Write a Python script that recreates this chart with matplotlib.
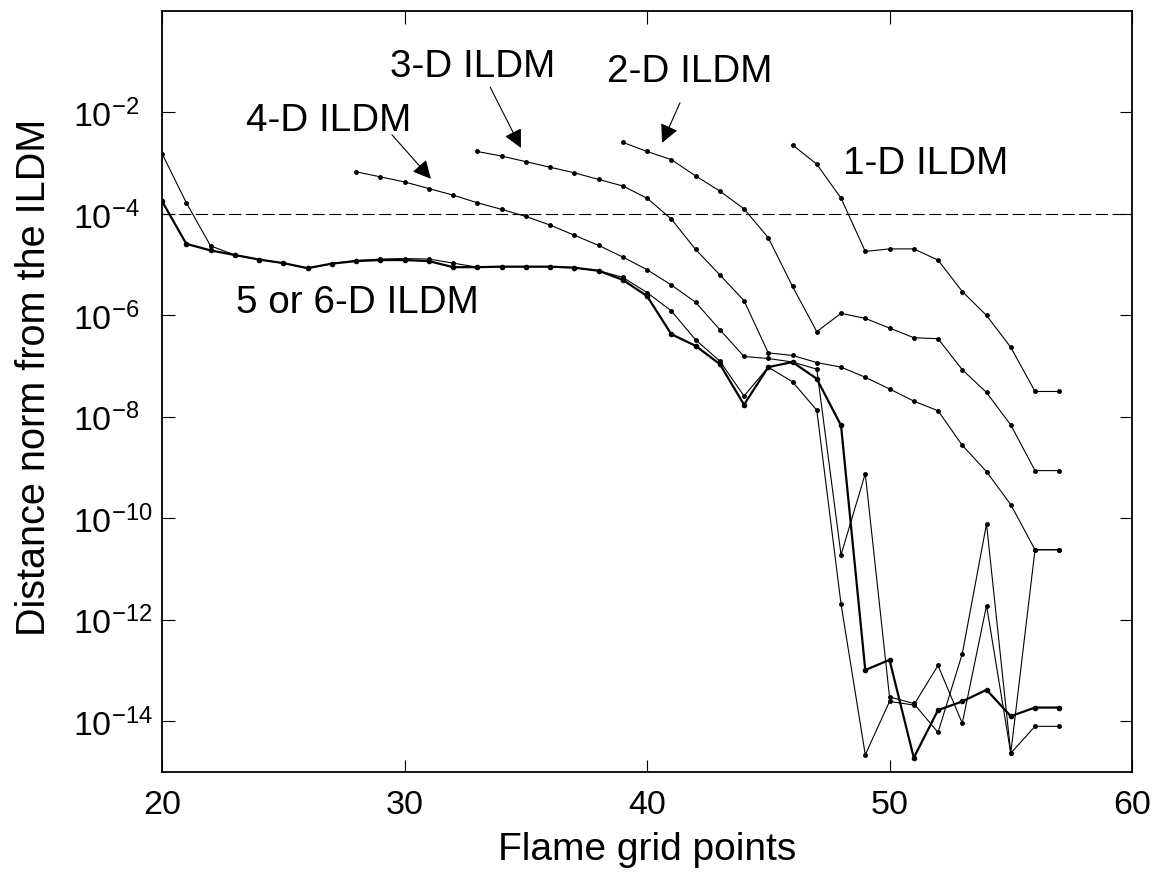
import numpy as np
import matplotlib
matplotlib.use("Agg")
import matplotlib.pyplot as plt

plt.rcParams['font.family'] = ['Liberation Sans', 'DejaVu Sans']
plt.rcParams['mathtext.default'] = 'regular'

# log10 of the distance norm
x_1d = list(range(46, 58))
log_1d = [-2.64, -3.02, -3.69, -4.74, -4.69, -4.69, -4.91, -5.53, -6.00, -6.63, -7.50, -7.50]

x_2d = list(range(39, 58))
log_2d = [-2.59, -2.77, -2.93, -3.25, -3.55, -3.90, -4.47, -5.43, -6.32, -5.96,
          -6.06, -6.25, -6.44, -6.46, -7.07, -7.52, -8.16, -9.06, -9.06]

x_3d = list(range(33, 58))
log_3d = [-2.77, -2.86, -2.97, -3.08, -3.19, -3.32, -3.45, -3.69, -4.10, -4.70,
          -5.20, -5.71, -6.74, -6.79, -6.93, -7.02, -7.22, -7.45, -7.69, -7.88,
          -8.56, -9.08, -9.73, -10.62, -10.62]

x_4d = list(range(28, 58))
log_4d = [-3.17, -3.27, -3.37, -3.50, -3.63, -3.78, -3.91, -4.05, -4.22, -4.42,
          -4.62, -4.85, -5.10, -5.40, -5.74, -6.28, -6.81, -6.85, -6.92, -7.06,
          -10.72, -9.12, -13.52, -13.65, -14.22, -12.67, -10.11, -14.63, -10.62, -10.62]

x_5d = list(range(20, 58))
log_5d = [-3.75, -4.59, -4.72, -4.81, -4.90, -4.97, -5.07, -4.98, -4.93, -4.91,
          -4.91, -4.93, -5.05, -5.05, -5.04, -5.04, -5.04, -5.06, -5.12, -5.30,
          -5.62, -6.37, -6.60, -6.96, -7.76, -7.02, -6.92, -7.25, -8.17, -12.99,
          -12.79, -14.72, -13.78, -13.61, -13.38, -13.90, -13.73, -13.73]

x_6d = list(range(20, 58))
log_6d = [-2.81, -3.78, -4.63, -4.81, -4.90, -4.97, -5.07, -4.98, -4.92, -4.89,
          -4.88, -4.89, -4.97, -5.05, -5.04, -5.04, -5.04, -5.06, -5.12, -5.25,
          -5.55, -5.91, -6.48, -6.90, -7.59, -7.02, -7.31, -7.87, -11.69, -14.66,
          -13.61, -13.68, -12.90, -14.04, -11.72, -14.63, -14.10, -14.10]

threshold = 1e-4

fig = plt.figure(figsize=(11.55, 8.79), dpi=100)
ax = fig.add_axes([0.1403, 0.1206, 0.8398, 0.8658])

thin = dict(color='k', lw=0.8, marker='.', ms=5)
for xs, ls in [(x_1d, log_1d), (x_2d, log_2d), (x_3d, log_3d), (x_4d, log_4d), (x_6d, log_6d)]:
    ax.plot(xs, 10.0 ** np.array(ls), **thin)
ax.plot(x_5d, 10.0 ** np.array(log_5d), color='k', lw=1.6, marker='.', ms=6)

ax.axhline(threshold, color='k', lw=0.8, linestyle=(0, (11, 4)))

ax.set_yscale('log')
ax.set_xlim(20, 60)
ax.set_ylim(1e-15, 1e0)
ax.set_xticks([20, 30, 40, 50, 60])
ax.set_yticks([1e-14, 1e-12, 1e-10, 1e-8, 1e-6, 1e-4, 1e-2])
ax.minorticks_off()
ax.tick_params(direction='in', length=9, width=0.8, top=True, right=True,
               labelsize=24.5)
ax.tick_params(axis='x', pad=12)
# matlab keeps the "10" of each label in one column
ax.tick_params(axis='y', pad=64)
for lab in ax.get_yticklabels():
    lab.set_horizontalalignment('left')
for s in ax.spines.values():
    s.set_linewidth(1.3)

ax.set_xlabel('Flame grid points', fontsize=28)
ax.set_ylabel('Distance norm from the ILDM', fontsize=28.5)
ax.xaxis.set_label_coords(0.5, -0.078)
ax.yaxis.set_label_coords(-0.112, 0.52)

fs = 27.8
ax.text(29.40, 10 ** -1.28, '3-D ILDM', fontsize=fs, va='baseline')
ax.text(38.35, 10 ** -1.38, '2-D ILDM', fontsize=fs, va='baseline')
ax.text(23.46, 10 ** -2.35, '4-D ILDM', fontsize=fs, va='baseline')
ax.text(48.08, 10 ** -3.19, '1-D ILDM', fontsize=fs, va='baseline')
ax.text(23.05, 10 ** -5.93, '5 or 6-D ILDM', fontsize=fs, va='baseline')

arrow = dict(arrowstyle='-|>', mutation_scale=28, lw=0.8, color='k',
             shrinkA=0, shrinkB=0)
ax.annotate('', xy=(34.80, 10 ** -2.70), xytext=(33.53, 10 ** -1.50), arrowprops=arrow)
ax.annotate('', xy=(40.62, 10 ** -2.60), xytext=(41.36, 10 ** -1.81), arrowprops=arrow)
ax.annotate('', xy=(31.09, 10 ** -3.31), xytext=(29.48, 10 ** -2.44), arrowprops=arrow)

fig.savefig('out.png', dpi=100)
